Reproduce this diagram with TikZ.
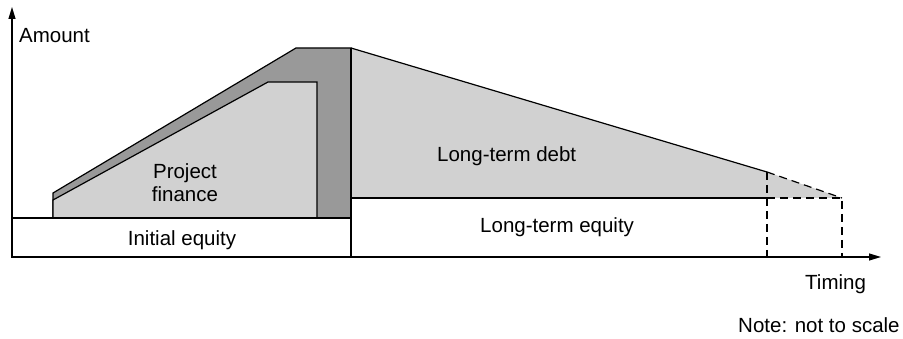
\documentclass[tikz,border=0pt]{standalone}
\usepackage{fontspec}
\setmainfont{Liberation Sans}
\usetikzlibrary{arrows.meta}
\definecolor{lightfill}{gray}{0.82}
\definecolor{darkfill}{gray}{0.6}
\tikzset{
  outline/.style={draw=black, line width=1.2pt, line join=miter},
  dashline/.style={draw=black, line width=1.2pt, dash pattern=on 8pt off 5pt},
  axisline/.style={draw=black, line width=1.2pt, -{Triangle[length=12pt,width=7pt]}},
  lbl/.style={font=\fontsize{20.5}{23}\selectfont, inner sep=0pt, anchor=base west},
}
\begin{document}
\begin{tikzpicture}[x=1pt,y=-1pt]
\useasboundingbox (0,0) rectangle (903,339);
% project finance (dark outer + light inner)
\fill[darkfill] (53,218) -- (53,193) -- (296,48) -- (351,48) -- (351,218) -- cycle;
\draw[outline] (53,218) -- (53,193) -- (296,48) -- (351,48) -- (351,218);
\fill[lightfill] (53,218) -- (53,200) -- (268,82) -- (317,82) -- (317,218) -- cycle;
\draw[outline] (53,218) -- (53,200) -- (268,82) -- (317,82) -- (317,218);
% initial equity
\draw[outline, fill=white] (12,218) rectangle (351,257);
% long-term debt
\fill[lightfill] (351,48) -- (767,172) -- (842,198) -- (351,198) -- cycle;
\draw[outline] (351,48) -- (767,172);
\draw[dashline] (767,172) -- (842,198);
% long-term equity
\draw[outline] (767,198) -- (351,198);
\draw[outline] (351,48) -- (351,257);
\draw[dashline] (767,198) -- (842,198) -- (842,257);
\draw[dashline] (767,172) -- (767,257);
% axes
\coordinate (O) at (12,257);
\coordinate (ytip) at (12,7);
\coordinate (xtip) at (881,257);
\draw[axisline] (O) -- (ytip);
\draw[axisline] (O) -- (xtip);
% labels
\node[lbl] (amount) at (19,43) {Amount};
\node[font=\fontsize{20.5}{23}\selectfont, inner sep=0pt, align=center, anchor=base] (pf) at (185,202) {Project\\finance};
\node[lbl, anchor=base] (ie) at (182,246) {Initial equity};
\node[lbl] (ltd) at (437,162) {Long-term debt};
\node[lbl] (lte) at (480,233) {Long-term equity};
\node[lbl] (timing) at (805,290) {Timing};
\node[lbl] (note) at (738,332) {Note: not to scale};
\end{tikzpicture}
\end{document}
